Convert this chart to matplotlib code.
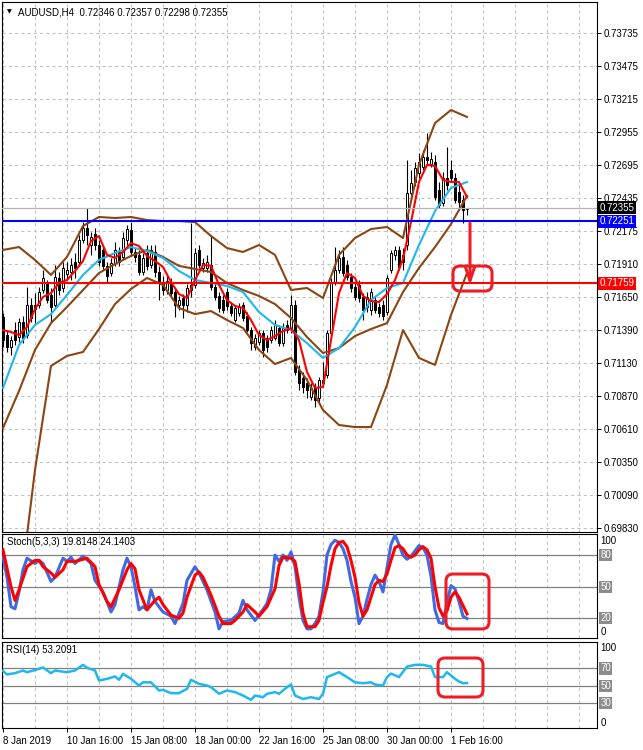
import matplotlib
matplotlib.use("Agg")
import matplotlib.pyplot as plt
import numpy as np
from matplotlib.patches import FancyBboxPatch
from matplotlib.transforms import IdentityTransform, blended_transform_factory

plt.rcParams['font.family'] = ['Liberation Sans', 'DejaVu Sans']
plt.rcParams['font.size'] = 7

# AUDUSD H4 candles, one per bar (8 Jan 2019 00:00 ... 4 Feb 08:00)
opens = [0.71494, 0.71352, 0.71257, 0.71391, 0.71336, 0.71454, 0.71352, 0.71589, 0.71589, 0.71589,
         0.71707, 0.71762, 0.71668, 0.71589, 0.71802, 0.71723, 0.71833, 0.71849, 0.71928, 0.71928,
         0.72101, 0.72196, 0.72062, 0.72148, 0.72062, 0.72023, 0.71897, 0.71841, 0.71920, 0.72007,
         0.71968, 0.72101, 0.72180, 0.72007, 0.71984, 0.71849, 0.71999, 0.71905, 0.72007, 0.71849,
         0.71762, 0.71707, 0.71770, 0.71691, 0.71589, 0.71644, 0.71589, 0.71707, 0.71747, 0.72023,
         0.71881, 0.71881, 0.71905, 0.71731, 0.71660, 0.71628, 0.71691, 0.71581, 0.71470, 0.71525,
         0.71589, 0.71502, 0.71391, 0.71257, 0.71296, 0.71367, 0.71328, 0.71312, 0.71328, 0.71407,
         0.71288, 0.71431, 0.71391, 0.71589, 0.71076, 0.71013, 0.70973, 0.70863, 0.70942, 0.70855,
         0.70973, 0.71037, 0.71367, 0.71770, 0.71865, 0.71968, 0.71905, 0.71810, 0.71731, 0.71747,
         0.71652, 0.71573, 0.71549, 0.71628, 0.71573, 0.71589, 0.71533, 0.71865, 0.71984, 0.72023,
         0.71984, 0.72062, 0.72472, 0.72559, 0.72630, 0.72678, 0.72757, 0.72701, 0.72717, 0.72496,
         0.72393, 0.72591, 0.72654, 0.72591, 0.72480, 0.72417, 0.72346]
highs = [0.71525, 0.71391, 0.71344, 0.71454, 0.71486, 0.71502, 0.71731, 0.71644, 0.71683, 0.71731,
         0.71865, 0.71786, 0.71723, 0.71905, 0.71849, 0.71928, 0.71928, 0.71960, 0.71999, 0.72141,
         0.72243, 0.72354, 0.72164, 0.72196, 0.72101, 0.72062, 0.71928, 0.71960, 0.72085, 0.72046,
         0.72164, 0.72220, 0.72243, 0.72038, 0.72023, 0.71999, 0.72062, 0.72062, 0.72062, 0.71897,
         0.71818, 0.71818, 0.71802, 0.71723, 0.71660, 0.71675, 0.71754, 0.72235, 0.72038, 0.72062,
         0.71960, 0.71984, 0.72141, 0.71762, 0.71691, 0.71668, 0.71723, 0.71612, 0.71589, 0.71604,
         0.71612, 0.71533, 0.71415, 0.71359, 0.71391, 0.71391, 0.71352, 0.71423, 0.71470, 0.71431,
         0.71446, 0.71470, 0.71668, 0.71628, 0.71116, 0.71060, 0.71013, 0.70973, 0.70973, 0.71021,
         0.71139, 0.71391, 0.71802, 0.72046, 0.72023, 0.72046, 0.71944, 0.71841, 0.71762, 0.71786,
         0.71683, 0.71691, 0.71723, 0.71660, 0.71604, 0.71628, 0.71826, 0.72023, 0.72054, 0.72054,
         0.72038, 0.72733, 0.72654, 0.72717, 0.72788, 0.72812, 0.72945, 0.72796, 0.72773, 0.72559,
         0.72638, 0.72835, 0.72733, 0.72630, 0.72536, 0.72457, 0.72357]
lows = [0.71257, 0.71218, 0.71195, 0.71273, 0.71296, 0.71288, 0.71328, 0.71454, 0.71446, 0.71565,
        0.71683, 0.71604, 0.71454, 0.71565, 0.71668, 0.71691, 0.71786, 0.71786, 0.71802, 0.71897,
        0.72077, 0.72062, 0.71984, 0.72023, 0.71897, 0.71865, 0.71770, 0.71818, 0.71897, 0.71897,
        0.71944, 0.72062, 0.71976, 0.71928, 0.71826, 0.71826, 0.71865, 0.71881, 0.71810, 0.71628,
        0.71668, 0.71675, 0.71644, 0.71494, 0.71549, 0.71486, 0.71533, 0.71652, 0.71723, 0.71881,
        0.71849, 0.71849, 0.71707, 0.71628, 0.71533, 0.71525, 0.71549, 0.71502, 0.71454, 0.71502,
        0.71462, 0.71375, 0.71234, 0.71234, 0.71273, 0.71179, 0.71218, 0.71288, 0.71312, 0.71265,
        0.71265, 0.71367, 0.71367, 0.71037, 0.70918, 0.70894, 0.70855, 0.70839, 0.70784, 0.70823,
        0.70950, 0.71013, 0.71344, 0.71747, 0.71841, 0.71818, 0.71786, 0.71691, 0.71628, 0.71612,
        0.71470, 0.71533, 0.71510, 0.71525, 0.71494, 0.71470, 0.71510, 0.71841, 0.71944, 0.71865,
        0.71865, 0.72023, 0.72441, 0.72528, 0.72591, 0.72654, 0.72694, 0.72678, 0.72417, 0.72354,
        0.72370, 0.72496, 0.72559, 0.72393, 0.72338, 0.72235, 0.72298]
closes = [0.71312, 0.71257, 0.71312, 0.71312, 0.71454, 0.71328, 0.71589, 0.71486, 0.71557, 0.71691,
          0.71802, 0.71628, 0.71573, 0.71810, 0.71707, 0.71881, 0.71865, 0.71905, 0.71881, 0.72101,
          0.72196, 0.72141, 0.72125, 0.72062, 0.71928, 0.71897, 0.71818, 0.71920, 0.72023, 0.71928,
          0.72117, 0.72188, 0.72007, 0.71968, 0.71849, 0.71960, 0.71897, 0.72023, 0.71849, 0.71762,
          0.71707, 0.71778, 0.71683, 0.71589, 0.71628, 0.71589, 0.71723, 0.71747, 0.71999, 0.71905,
          0.71920, 0.71928, 0.71731, 0.71652, 0.71565, 0.71549, 0.71581, 0.71525, 0.71565, 0.71573,
          0.71486, 0.71391, 0.71288, 0.71328, 0.71367, 0.71234, 0.71257, 0.71391, 0.71431, 0.71288,
          0.71407, 0.71391, 0.71589, 0.71060, 0.70973, 0.70942, 0.70918, 0.70934, 0.70839, 0.70997,
          0.70997, 0.71367, 0.71770, 0.71865, 0.71960, 0.71841, 0.71810, 0.71723, 0.71652, 0.71644,
          0.71549, 0.71652, 0.71691, 0.71549, 0.71525, 0.71502, 0.71802, 0.71999, 0.72023, 0.71889,
          0.71928, 0.72472, 0.72551, 0.72670, 0.72717, 0.72757, 0.72733, 0.72741, 0.72441, 0.72378,
          0.72591, 0.72536, 0.72591, 0.72417, 0.72401, 0.72338, 0.72355]

# indicator lines read every 4 bars
bars4 = list(range(0, 117, 4))
bb_upper = [0.72023, 0.72046, 0.71944, 0.71826, 0.71968, 0.72212, 0.72283, 0.72275, 0.72283, 0.72259,
            0.72251, 0.72251, 0.72243, 0.72133, 0.72038, 0.72007, 0.72062, 0.71984, 0.71707, 0.71723,
            0.71644, 0.71984, 0.72117, 0.72188, 0.72204, 0.72117, 0.72694, 0.73024, 0.73127, 0.73072]
bb_middle = [0.70618, 0.70910, 0.71234, 0.71446, 0.71573, 0.71707, 0.71841, 0.71912, 0.71976, 0.72023,
             0.71968, 0.71897, 0.71873, 0.71849, 0.71762, 0.71707, 0.71660, 0.71596, 0.71486, 0.71336,
             0.71210, 0.71249, 0.71344, 0.71399, 0.71446, 0.71691, 0.71881, 0.72046, 0.72227, 0.72449]
bb_lower = [0.68867, 0.69261, 0.70287, 0.71108, 0.71187, 0.71218, 0.71399, 0.71596, 0.71715, 0.71802,
            0.71747, 0.71565, 0.71517, 0.71541, 0.71470, 0.71407, 0.71234, 0.71123, 0.71171, 0.70997,
            0.70760, 0.70642, 0.70626, 0.70626, 0.70958, 0.71391, 0.71171, 0.71116, 0.71510, 0.71841]
ma_slow = [0.70934, 0.71273, 0.71431, 0.71517, 0.71668, 0.71826, 0.71944, 0.71999, 0.72046, 0.72015,
           0.71960, 0.71857, 0.71786, 0.71762, 0.71739, 0.71691, 0.71533, 0.71431, 0.71391, 0.71288,
           0.71171, 0.71249, 0.71415, 0.71628, 0.71723, 0.71762, 0.72062, 0.72330, 0.72512, 0.72559]
# fast MA read every 2 bars
bars2 = list(range(0, 117, 2))
ma_fast = [0.71391, 0.71375, 0.71352, 0.71415, 0.71557, 0.71652, 0.71683, 0.71762, 0.71786, 0.71857,
           0.71936, 0.72093, 0.72133, 0.71984, 0.71960, 0.72007, 0.72077, 0.72054, 0.71976, 0.71936,
           0.71889, 0.71770, 0.71675, 0.71644, 0.71786, 0.71905, 0.71897, 0.71747, 0.71628, 0.71581,
           0.71565, 0.71470, 0.71352, 0.71312, 0.71344, 0.71383, 0.71407, 0.71312, 0.71060, 0.70934,
           0.70942, 0.71312, 0.71683, 0.71841, 0.71802, 0.71660, 0.71620, 0.71612, 0.71675, 0.71786,
           0.71952, 0.72243, 0.72559, 0.72694, 0.72686, 0.72575, 0.72559, 0.72559, 0.72441]

price_ticks = [0.73735, 0.73475, 0.73215, 0.72955, 0.72695, 0.72435, 0.72175, 0.71910,
               0.71650, 0.71390, 0.71130, 0.70870, 0.70610, 0.70350, 0.70090, 0.69830]
bid = 0.72355
level_blue = 0.72251
level_red = 0.71759

# Stochastic (5,3,3)
stoch_k_bars = [0, 1, 2, 3, 4, 5, 6, 8, 9, 10, 12, 13, 15, 16, 17, 18, 20, 22, 23, 25, 27, 28,
                30, 31, 32, 33, 34, 35, 36, 37, 38, 40, 42, 43, 45, 46, 48, 49, 51, 53, 54, 55,
                57, 59, 60, 61, 63, 64] + list(range(66, 117))
stoch_k = [78, 59, 31, 29, 45, 66, 77, 72, 75, 72, 55, 59, 77, 74, 78, 72, 79, 72, 56, 45, 26, 33,
           66, 77, 69, 50, 28, 31, 28, 47, 36, 26, 22, 15, 34, 56, 69, 63, 47, 26, 10, 17,
           18, 25, 37, 28, 18, 23,
           34, 47, 80, 74, 80, 75, 83, 69, 40, 18, 10, 10, 15, 22, 45, 80, 90, 94, 92, 86,
           75, 55, 40, 15, 22, 38, 52, 61, 55, 45, 68, 90, 99, 90, 80, 76, 79, 84, 89, 87,
           80, 60, 28, 16, 15, 35, 51, 48, 36, 22, 19.8148]
stoch_d_bars = [0, 2, 3, 4, 6, 8, 9, 10, 12, 13, 15, 16, 18, 21, 23, 24, 26, 27, 29, 31,
                32, 33, 34, 36, 38, 39, 40, 42, 44, 45, 46, 48, 49, 50, 52, 54, 55, 57, 58, 60,
                61, 63, 64, 66, 68, 69, 70, 72, 73, 74, 75, 76, 78, 79] + list(range(80, 117))
stoch_d = [85, 50, 37, 47, 69, 75, 75, 69, 63, 59, 66, 74, 74, 77, 69, 52, 36, 31, 47, 66,
           72, 67, 47, 28, 37, 40, 33, 23, 20, 25, 40, 61, 64, 59, 42, 22, 15, 15, 18, 26,
           33, 26, 22, 31, 48, 70, 78, 77, 74, 53, 25, 12, 12, 18,
           35, 50, 70, 86, 92, 93, 88, 75, 59, 35, 22, 28, 40, 52, 56, 55, 62, 75, 87, 89,
           86, 80, 78, 80, 85, 88, 85, 77, 50, 30, 22, 27, 40, 45, 40, 32, 24.1403]

# RSI(14)
rsi_bars = [0, 1, 3, 5, 6, 8, 10, 12, 13, 16, 18, 20, 21, 23, 24, 26, 28, 29, 30, 32,
            34, 35, 37, 39, 40, 42, 44, 46, 47, 49, 51, 52, 54, 56, 58, 60, 62, 63, 65, 66,
            68, 69, 71, 72, 73, 75, 77, 79, 80, 81, 83, 84, 86, 88, 90, 92, 93, 95, 96, 97,
            99, 101, 103, 105, 107, 108, 110, 111, 113, 114, 115, 116]
rsi = [67, 63, 64.5, 67.5, 65.6, 68, 71, 64.5, 67.5, 65.6, 67.5, 74, 70.6, 67.5, 56, 58, 60.7, 56.9, 63.7, 58,
       50.4, 54, 54, 44.7, 45.4, 41.6, 41.6, 46.6, 56.9, 52.3, 50.4, 48.5, 40.9, 44.7, 42.8, 38.9, 34, 38.9, 37, 40.9,
       42.8, 40.9, 48.5, 51.5, 38.9, 35, 37, 35, 40.9, 60, 63.7, 65.6, 60, 54, 53, 54, 51.5, 50.4, 60, 64,
       60, 72, 74, 74, 72, 60, 60, 65.7, 58, 55, 53, 53.2091]

date_bars = [0, 16, 32, 48, 64, 80, 96, 112]
date_labels = ['8 Jan 2019', '10 Jan 16:00', '15 Jan 08:00', '18 Jan 00:00',
               '22 Jan 16:00', '25 Jan 08:00', '30 Jan 00:00', '1 Feb 16:00']

BROWN = '#8b4513'
CYAN = '#1cb8ee'
MARK = '#ee1c24'
GRID = '#c0c0c0'

W, H = 643, 750
fig = plt.figure(figsize=(W / 100, H / 100), dpi=100)
L, AW = 2 / W, 595 / W
ax = fig.add_axes([L, (H - 532) / H, AW, 530 / H])
ax_st = fig.add_axes([L, (H - 638) / H, AW, 104 / H], sharex=ax)
ax_rsi = fig.add_axes([L, (H - 728) / H, AW, 86 / H], sharex=ax)

for a in (ax, ax_st, ax_rsi):
    for s in a.spines.values():
        s.set_color('black')
        s.set_linewidth(0.8)
    for b in range(0, 149, 8):
        a.axvline(b, color=GRID, lw=0.75, ls=(0, (3, 3)), zorder=0)

# ---- main price panel
o, h, l, c = map(np.array, (opens, highs, lows, closes))
x = np.arange(len(c))
ax.vlines(x, l, h, color='black', lw=0.8, zorder=2)
ax.bar(x, np.abs(c - o), bottom=np.minimum(o, c), width=0.6,
       color=np.where(c >= o, 'white', 'black'), edgecolor='black', linewidth=0.7, zorder=3)

for p in price_ticks:
    ax.axhline(p, color=GRID, lw=0.75, ls=(0, (3, 3)), zorder=0)

ax.plot(bars4, bb_upper, color=BROWN, lw=1.5, zorder=4)
ax.plot(bars4, bb_middle, color=BROWN, lw=1.5, zorder=4)
ax.plot(bars4, bb_lower, color=BROWN, lw=1.5, zorder=4)
ax.plot(bars4, ma_slow, color=CYAN, lw=1.5, zorder=4)
ax.plot(bars2, ma_fast, color='red', lw=1.5, zorder=5)

ax.axhline(bid, color='#b4b4b4', lw=0.9, zorder=5)
ax.axhline(level_blue, color='#0000ff', lw=1.5, zorder=6)
ax.axhline(level_red, color='#ff0000', lw=1.5, zorder=6)

ax.set_xlim(-0.25, 148.5)
ax.set_ylim(0.69798, 0.73979)
ax.yaxis.tick_right()
ax.set_yticks(price_ticks)
ax.set_yticklabels([f'{p:.5f}' for p in price_ticks])
ax.tick_params(axis='y', length=3, width=0.7, pad=2, labelsize=7)
ax.tick_params(axis='x', bottom=False, labelbottom=False)

tr = blended_transform_factory(ax.transAxes, ax.transData)
for val, fc in ((bid, 'black'), (level_blue, '#0000ff'), (level_red, '#ff0000')):
    ax.text(1.004, val, f'{val:.5f}', transform=tr, va='center', ha='left', color='white',
            fontsize=7, bbox=dict(boxstyle='square,pad=0.15', fc=fc, ec='none'),
            clip_on=False, zorder=10)

fig.text(9 / W, 1 - 12 / H, '\u25bc', fontsize=4.5, ha='center', va='center',
         family=['DejaVu Sans'])
ax.text(0.027, 0.981, 'AUDUSD,H4  0.72346 0.72357 0.72298 0.72355', transform=ax.transAxes,
        ha='left', va='center', fontsize=7)

ax.annotate('', xy=(116.75, 0.71746), xytext=(116.75, 0.72235),
            arrowprops=dict(arrowstyle='->,head_length=1.3,head_width=0.45', color=MARK,
                            lw=2.2, shrinkA=0, shrinkB=0), zorder=8)

# ---- stochastic panel
for lv in (20, 50, 80):
    ax_st.axhline(lv, color='#808080', lw=0.9, zorder=1)
ax_st.plot(stoch_k_bars, stoch_k, color='#4169e1', lw=2.2, zorder=3)
ax_st.plot(stoch_d_bars, stoch_d, color='red', lw=2.2, zorder=4)
ax_st.set_ylim(1.3, 100)
ax_st.set_yticks([])
ax_st.tick_params(axis='x', bottom=False, labelbottom=False)
ax_st.text(0.0084, 0.923, 'Stoch(5,3,3) 19.8148 24.1403', transform=ax_st.transAxes,
           ha='left', va='center', fontsize=7)
trs = blended_transform_factory(ax_st.transAxes, ax_st.transData)
ax_st.text(1.006, 93.4, '100', transform=trs, va='center', ha='left', clip_on=False)
ax_st.text(1.006, 7.0, '0', transform=trs, va='center', ha='left', clip_on=False)
for lv in (80, 50, 20):
    ax_st.text(1.006, lv, str(lv), transform=trs, va='center', ha='left', color='white',
               bbox=dict(boxstyle='square,pad=0.12', fc='#8c8c8c', ec='none'), clip_on=False)

# ---- RSI panel
for lv in (30, 50, 70):
    ax_rsi.axhline(lv, color='#808080', lw=0.9, zorder=1)
ax_rsi.plot(rsi_bars, rsi, color=CYAN, lw=1.8, zorder=3)
ax_rsi.set_ylim(1.8, 100.1)
ax_rsi.set_yticks([])
ax_rsi.text(0.0067, 0.907, 'RSI(14) 53.2091', transform=ax_rsi.transAxes,
            ha='left', va='center', fontsize=7)
trr = blended_transform_factory(ax_rsi.transAxes, ax_rsi.transData)
ax_rsi.text(1.006, 92.8, '100', transform=trr, va='center', ha='left', clip_on=False)
ax_rsi.text(1.006, 7.9, '0', transform=trr, va='center', ha='left', clip_on=False)
for lv in (70, 50, 30):
    ax_rsi.text(1.006, lv, str(lv), transform=trr, va='center', ha='left', color='white',
                bbox=dict(boxstyle='square,pad=0.12', fc='#8c8c8c', ec='none'), clip_on=False)

ax_rsi.set_xticks(date_bars)
ax_rsi.set_xticklabels(date_labels, ha='left', fontsize=7)
ax_rsi.tick_params(axis='x', length=3, width=0.7, pad=3)


# red rounded frames drawn over the picture
def red_frame(a, x0, x1, y0, y1):
    px0, py0 = a.transData.transform((x0, y0))
    px1, py1 = a.transData.transform((x1, y1))
    fig.add_artist(FancyBboxPatch((px0, py0), px1 - px0, py1 - py0,
                                  boxstyle='round,pad=0,rounding_size=7',
                                  transform=IdentityTransform(), fill=False,
                                  ec=MARK, lw=2.2, zorder=20))


red_frame(ax, 112.5, 122.25, 0.71699, 0.71896)
red_frame(ax_st, 110.75, 121.5, 9.9, 62)
red_frame(ax_rsi, 108.75, 120, 37.2, 81.8)

fig.savefig('out.png', dpi=100)
